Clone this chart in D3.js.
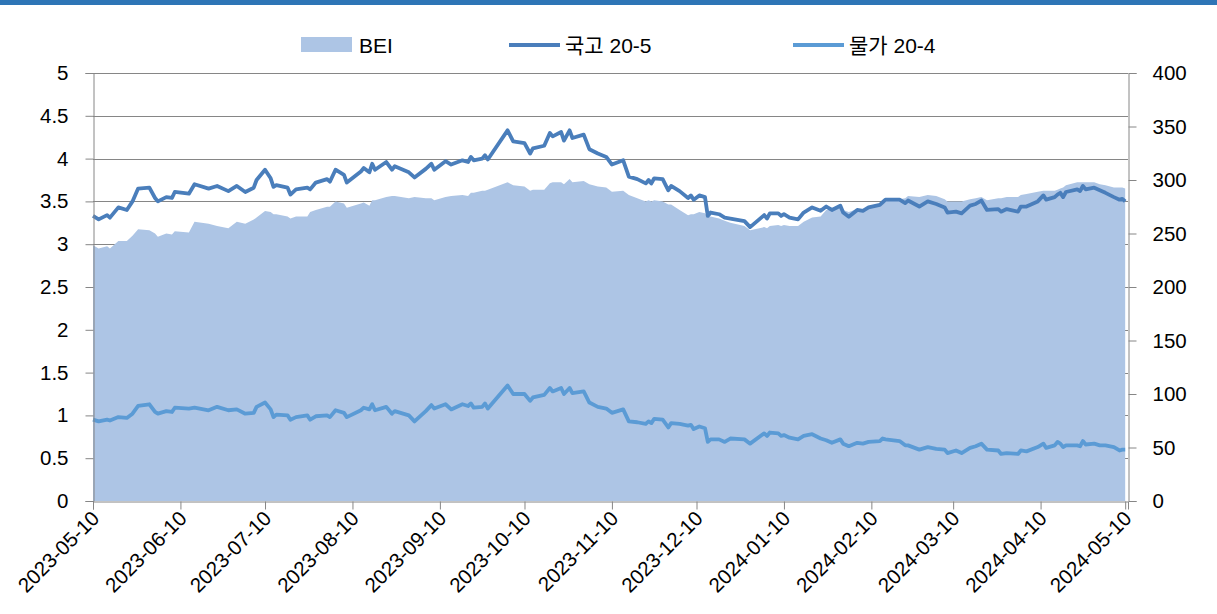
<!DOCTYPE html>
<html>
<head>
<meta charset="utf-8">
<script src="https://cdn.jsdelivr.net/npm/d3@7"></script>
<style>
  body { margin: 0; background: #fff; }
  text { font-family: "Liberation Sans", "Noto Sans CJK KR", sans-serif; fill: #000; }
</style>
</head>
<body>
<div id="chart"></div>
<script>
// Configuration
const WIDTH = 1217;
const HEIGHT = 614;
const LEFT = 93, RIGHT = 1128, TOP = 73, BOTTOM = 501;

// Data
const dates = [
  "2023-05-10","2023-05-12","2023-05-15","2023-05-16","2023-05-19","2023-05-22","2023-05-24","2023-05-26","2023-05-30","2023-06-01",
  "2023-06-02","2023-06-05","2023-06-07","2023-06-08","2023-06-13","2023-06-15","2023-06-20","2023-06-23","2023-06-27","2023-06-30",
  "2023-07-03","2023-07-06","2023-07-07","2023-07-10","2023-07-12","2023-07-13","2023-07-14","2023-07-18","2023-07-19","2023-07-21",
  "2023-07-25","2023-07-26","2023-07-28","2023-08-01","2023-08-02","2023-08-04","2023-08-07","2023-08-08","2023-08-13","2023-08-14",
  "2023-08-16","2023-08-17","2023-08-18","2023-08-22","2023-08-24","2023-08-25","2023-08-30","2023-09-01","2023-09-05","2023-09-07",
  "2023-09-08","2023-09-12","2023-09-14","2023-09-18","2023-09-20","2023-09-21","2023-09-22","2023-09-25","2023-09-26","2023-09-27",
  "2023-10-04","2023-10-06","2023-10-10","2023-10-12","2023-10-13","2023-10-17","2023-10-19","2023-10-20","2023-10-23","2023-10-24",
  "2023-10-26","2023-10-27","2023-10-31","2023-11-02","2023-11-05","2023-11-08","2023-11-10","2023-11-14","2023-11-16","2023-11-19",
  "2023-11-22","2023-11-23","2023-11-24","2023-11-25","2023-11-28","2023-11-30","2023-12-01","2023-12-04","2023-12-07","2023-12-08",
  "2023-12-09","2023-12-11","2023-12-13","2023-12-14","2023-12-15","2023-12-18","2023-12-20","2023-12-22","2023-12-27","2023-12-29",
  "2024-01-03","2024-01-04","2024-01-05","2024-01-08","2024-01-09","2024-01-10","2024-01-12","2024-01-15","2024-01-17","2024-01-20",
  "2024-01-23","2024-01-25","2024-01-27","2024-01-30","2024-01-31","2024-02-02","2024-02-05","2024-02-07","2024-02-09","2024-02-13",
  "2024-02-14","2024-02-15","2024-02-20","2024-02-22","2024-02-23","2024-02-27","2024-03-01","2024-03-04","2024-03-07","2024-03-08",
  "2024-03-11","2024-03-13","2024-03-16","2024-03-18","2024-03-20","2024-03-22","2024-03-26","2024-03-27","2024-03-29","2024-04-02",
  "2024-04-03","2024-04-05","2024-04-09","2024-04-11","2024-04-12","2024-04-15","2024-04-16","2024-04-17","2024-04-18","2024-04-19",
  "2024-04-23","2024-04-24","2024-04-25","2024-04-26","2024-04-29","2024-05-01","2024-05-03","2024-05-06","2024-05-08","2024-05-09",
  "2024-05-10"
];

// 국고 20-5 (%, left axis)
const ktb = [
  3.33,3.29,3.34,3.31,3.43,3.40,3.50,3.65,3.66,3.54,
  3.50,3.55,3.54,3.61,3.59,3.70,3.65,3.68,3.62,3.68,
  3.61,3.66,3.75,3.87,3.77,3.67,3.69,3.66,3.58,3.64,
  3.66,3.64,3.72,3.76,3.73,3.87,3.81,3.72,3.85,3.89,
  3.84,3.94,3.87,3.96,3.87,3.91,3.84,3.78,3.88,3.94,
  3.87,3.97,3.93,3.98,3.96,4.02,3.98,4.00,4.04,3.99,
  4.33,4.20,4.18,4.06,4.12,4.15,4.30,4.26,4.31,4.21,
  4.33,4.24,4.28,4.11,4.06,4.02,3.93,3.98,3.79,3.76,
  3.71,3.75,3.71,3.77,3.76,3.63,3.68,3.62,3.54,3.57,
  3.52,3.57,3.55,3.33,3.37,3.35,3.31,3.30,3.27,3.20,
  3.34,3.30,3.36,3.36,3.33,3.35,3.31,3.29,3.37,3.43,
  3.39,3.44,3.40,3.45,3.37,3.32,3.40,3.39,3.43,3.46,
  3.49,3.52,3.52,3.48,3.51,3.44,3.50,3.47,3.43,3.37,
  3.38,3.36,3.45,3.47,3.51,3.40,3.41,3.38,3.41,3.38,
  3.44,3.44,3.50,3.57,3.52,3.55,3.58,3.60,3.55,3.61,
  3.64,3.62,3.68,3.64,3.66,3.63,3.60,3.55,3.52,3.53,
  3.50
];

// 물가 20-4 (%, left axis)
const ktbi = [
  0.95,0.93,0.95,0.94,0.98,0.97,1.02,1.11,1.13,1.04,
  1.02,1.05,1.04,1.09,1.08,1.09,1.06,1.10,1.06,1.07,
  1.02,1.03,1.10,1.15,1.07,0.98,1.01,1.00,0.95,0.98,
  1.00,0.95,0.99,1.00,0.98,1.06,1.03,0.98,1.06,1.09,
  1.07,1.13,1.06,1.10,1.02,1.05,1.00,0.93,1.05,1.12,
  1.08,1.13,1.07,1.13,1.11,1.14,1.09,1.10,1.14,1.08,
  1.35,1.25,1.25,1.17,1.21,1.24,1.32,1.28,1.32,1.25,
  1.32,1.26,1.28,1.15,1.10,1.08,1.03,1.07,0.93,0.92,
  0.90,0.93,0.91,0.96,0.95,0.86,0.91,0.90,0.88,0.89,
  0.84,0.87,0.85,0.69,0.72,0.72,0.69,0.73,0.72,0.67,
  0.79,0.76,0.80,0.79,0.76,0.77,0.74,0.72,0.76,0.78,
  0.73,0.71,0.68,0.72,0.67,0.64,0.68,0.67,0.69,0.70,
  0.73,0.72,0.70,0.65,0.65,0.60,0.63,0.61,0.60,0.56,
  0.59,0.56,0.62,0.64,0.67,0.60,0.59,0.55,0.56,0.55,
  0.59,0.58,0.63,0.67,0.62,0.65,0.69,0.67,0.63,0.65,
  0.65,0.64,0.70,0.66,0.67,0.65,0.65,0.63,0.59,0.60,
  0.60
];

// BEI (bp, right axis)
const bei = [
  239,236,238,236,243,243,248,254,253,250,
  247,250,249,252,251,261,259,257,255,261,
  259,263,265,271,270,268,268,266,264,266,
  266,270,272,275,275,280,278,274,278,279,
  276,281,281,284,285,285,283,284,283,283,
  281,284,285,286,285,288,288,290,290,291,
  298,295,294,290,291,291,297,298,298,296,
  301,298,299,296,294,293,289,290,286,283,
  280,281,280,281,280,277,277,272,267,268,
  268,270,269,265,266,264,262,260,257,253,
  256,255,257,258,257,258,257,257,261,265,
  266,272,272,274,272,270,273,273,275,277,
  277,281,282,283,285,284,286,285,282,280,
  280,280,282,283,284,281,283,283,284,284,
  286,287,289,290,290,290,291,292,293,295,
  298,298,298,298,298,296,295,293,293,293,
  292
];

const leftTicks = d3.range(0, 5.01, 0.5);
const rightTicks = d3.range(0, 401, 50);
const monthTicks = ["2023-05-10","2023-06-10","2023-07-10","2023-08-10","2023-09-10","2023-10-10",
  "2023-11-10","2023-12-10","2024-01-10","2024-02-10","2024-03-10","2024-04-10","2024-05-10"];

const legendItems = [
  { name: "BEI", type: "area" },
  { name: "국고 20-5", type: "ktb" },
  { name: "물가 20-4", type: "ktbi" }
];

const colors = { area: "#adc5e5", ktb: "#4a7ebb", ktbi: "#5b9bd5" };
const gridColor = "#868686";

// Setup SVG
const svg = d3.select("#chart")
    .append("svg")
    .attr("width", WIDTH)
    .attr("height", HEIGHT);

const parse = d3.timeParse("%Y-%m-%d");
const fmt = d3.timeFormat("%Y-%m-%d");

const x = d3.scaleTime()
    .domain([parse("2023-05-10"), parse("2024-05-11")])
    .range([LEFT, RIGHT]);
const yL = d3.scaleLinear().domain([0, 5]).range([BOTTOM, TOP]);
const yR = d3.scaleLinear().domain([0, 400]).range([BOTTOM, TOP]);

const rows = dates.map((d, i) => ({ date: parse(d), ktb: ktb[i], ktbi: ktbi[i], bei: bei[i] }));

// Top band
svg.append("rect")
    .attr("x", 0).attr("y", 0)
    .attr("width", WIDTH).attr("height", 5)
    .attr("fill", "#2e75b6");

// Gridlines
svg.append("g")
    .selectAll("line")
    .data(leftTicks.filter(t => t > 0))
    .join("line")
    .attr("x1", LEFT).attr("x2", RIGHT)
    .attr("y1", d => Math.round(yL(d)) + 0.5)
    .attr("y2", d => Math.round(yL(d)) + 0.5)
    .attr("stroke", gridColor)
    .attr("stroke-width", 1);

// BEI area
const area = d3.area()
    .x(d => x(d.date))
    .y0(yR(0))
    .y1(d => yR(d.bei));

svg.append("path")
    .datum(rows)
    .attr("d", area)
    .attr("fill", colors.area);

// Lines
const lineKtb = d3.line().x(d => x(d.date)).y(d => yL(d.ktb));
const lineKtbi = d3.line().x(d => x(d.date)).y(d => yL(d.ktbi));

svg.append("path")
    .datum(rows)
    .attr("d", lineKtbi)
    .attr("fill", "none")
    .attr("stroke", colors.ktbi)
    .attr("stroke-width", 3.8)
    .attr("stroke-linejoin", "round");

svg.append("path")
    .datum(rows)
    .attr("d", lineKtb)
    .attr("fill", "none")
    .attr("stroke", colors.ktb)
    .attr("stroke-width", 3.8)
    .attr("stroke-linejoin", "round");

// Left axis
const leftAxis = svg.append("g")
    .attr("transform", `translate(${LEFT + 0.5},0)`)
    .call(d3.axisLeft(yL).tickValues(leftTicks).tickSize(8).tickPadding(17)
        .tickFormat(d => d3.format("")(+d.toFixed(1))));

// Right axis
const rightAxis = svg.append("g")
    .attr("transform", `translate(${RIGHT + 0.5},0)`)
    .call(d3.axisRight(yR).tickValues(rightTicks).tickSize(8).tickPadding(16));

// Bottom axis
const bottomAxis = svg.append("g")
    .attr("transform", `translate(0,${BOTTOM + 0.5})`)
    .call(d3.axisBottom(x).tickValues(monthTicks.map(parse)).tickSize(8).tickFormat(fmt));

bottomAxis.selectAll("text")
    .attr("text-anchor", "end")
    .attr("x", 0)
    .attr("y", 0)
    .attr("dy", "0.35em")
    .attr("transform", "translate(2,13) rotate(-45)");

[leftAxis, rightAxis, bottomAxis].forEach(g => {
    g.select(".domain").attr("stroke", gridColor);
    g.selectAll(".tick line").attr("stroke", gridColor);
    g.selectAll("text").attr("font-size", 20.5).attr("fill", "#000")
        .style("font-family", '"Liberation Sans", sans-serif');
});

// Legend
const legend = svg.append("g");
const legendX = [301, 509, 793];

legendItems.forEach((item, i) => {
    const lx = legendX[i];
    if (item.type === "area") {
        legend.append("rect")
            .attr("x", lx).attr("y", 37)
            .attr("width", 51).attr("height", 15)
            .attr("fill", colors.area);
    } else {
        legend.append("line")
            .attr("x1", lx).attr("x2", lx + 51)
            .attr("y1", 45).attr("y2", 45)
            .attr("stroke", colors[item.type])
            .attr("stroke-width", 4);
    }
    legend.append("text")
        .attr("x", lx + (item.type === "area" ? 58 : 56))
        .attr("y", 53)
        .attr("font-size", 21)
        .text(item.name);
});
</script>
</body>
</html>
